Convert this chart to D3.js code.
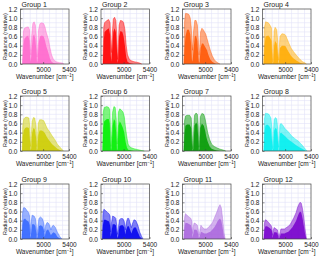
<!DOCTYPE html>
<html>
<head>
<meta charset="utf-8">
<script src="https://cdn.jsdelivr.net/npm/d3@7"></script>
<style>
  body { margin: 0; background: #fff; }
  svg { display: block; font-family: "Liberation Sans", Arial, sans-serif; }
  .tick text { fill: #222; }
</style>
</head>
<body>
<div id="chart"></div>
<script>
const groupNames = ['Group 1', 'Group 2', 'Group 3', 'Group 4', 'Group 5', 'Group 6',
  'Group 7', 'Group 8', 'Group 9', 'Group 10', 'Group 11', 'Group 12'];
const groupColors = ['#ff66cc', '#ff0000', '#ff5500', '#ffaa00', '#cccc00', '#00ee00',
  '#009900', '#00eeee', '#3366ff', '#0000ee', '#aa66dd', '#7700cc'];

// wavenumber breakpoints [cm-1] per group
const wavenumbers = [
  [4680, 4695, 4710, 4740, 4770, 4790, 4800, 4810, 4822, 4840, 4860, 4880, 4895, 4905, 4915, 4930, 4950, 4980, 5010, 5030, 5050, 5080, 5105, 5130, 5160, 5200, 5250, 5300, 5320],
  [4680, 4692, 4705, 4740, 4770, 4790, 4800, 4810, 4822, 4840, 4860, 4880, 4895, 4905, 4915, 4930, 4950, 4980, 5000, 5020, 5040, 5060, 5090, 5120, 5160, 5200, 5250, 5280],
  [4670, 4680, 4695, 4720, 4750, 4770, 4785, 4795, 4805, 4820, 4840, 4860, 4880, 4895, 4905, 4915, 4930, 4950, 4970, 4990, 5010, 5030, 5050, 5080, 5110, 5140, 5170, 5200, 5230],
  [4668, 4680, 4698, 4740, 4765, 4790, 4800, 4808, 4818, 4830, 4845, 4870, 4885, 4895, 4905, 4920, 4950, 4990, 5010, 5030, 5060, 5090, 5130, 5180, 5230, 5270, 5310, 5330],
  [4675, 4685, 4700, 4720, 4750, 4780, 4795, 4805, 4815, 4830, 4850, 4870, 4890, 4902, 4912, 4925, 4945, 4980, 5010, 5030, 5060, 5100, 5140, 5180, 5220, 5260, 5290, 5315],
  [4675, 4685, 4700, 4740, 4770, 4785, 4795, 4805, 4815, 4830, 4850, 4870, 4885, 4897, 4907, 4920, 4940, 4960, 4990, 5010, 5030, 5050, 5070, 5090, 5120, 5160, 5220, 5280, 5320],
  [4670, 4680, 4695, 4720, 4760, 4785, 4797, 4808, 4818, 4835, 4860, 4880, 4893, 4903, 4913, 4925, 4950, 4980, 5000, 5020, 5040, 5070, 5100, 5140, 5180, 5230, 5280, 5320],
  [4670, 4680, 4695, 4720, 4750, 4780, 4795, 4805, 4815, 4830, 4850, 4870, 4885, 4897, 4907, 4920, 4940, 4970, 5000, 5030, 5060, 5100, 5150, 5200, 5250, 5290, 5320, 5340],
  [4670, 4680, 4695, 4720, 4750, 4775, 4790, 4800, 4812, 4830, 4860, 4880, 4893, 4903, 4915, 4935, 4960, 4990, 5010, 5025, 5040, 5060, 5080, 5100, 5120, 5140, 5160, 5190, 5220, 5260, 5290],
  [4670, 4680, 4695, 4720, 4750, 4775, 4790, 4800, 4812, 4830, 4860, 4880, 4893, 4903, 4915, 4935, 4960, 4990, 5010, 5025, 5040, 5060, 5080, 5100, 5120, 5140, 5160, 5190, 5220, 5250, 5280, 5300],
  [4670, 4680, 4695, 4720, 4750, 4780, 4795, 4805, 4815, 4830, 4860, 4880, 4893, 4903, 4915, 4935, 4960, 4990, 5020, 5050, 5080, 5110, 5140, 5170, 5190, 5210, 5230, 5250, 5270, 5290, 5310],
  [4670, 4680, 4695, 4720, 4750, 4780, 4795, 4805, 4815, 4830, 4860, 4880, 4893, 4903, 4915, 4935, 4960, 4990, 5020, 5050, 5080, 5110, 5140, 5170, 5190, 5210, 5230, 5250, 5270, 5290, 5310, 5330]
];
// upper envelope of the spectra in each group
const upperRadiance = [
  [0, 0.7, 0.78, 0.8, 0.81, 0.75, 0.4, 0.2, 0.6, 0.88, 0.92, 0.85, 0.6, 0.15, 0.3, 0.75, 0.88, 0.9, 0.88, 0.8, 0.68, 0.55, 0.36, 0.2, 0.1, 0.05, 0.03, 0.02, 0],
  [0, 0.8, 0.9, 0.95, 0.97, 0.9, 0.5, 0.25, 0.6, 0.98, 1.02, 0.95, 0.6, 0.1, 0.3, 0.85, 0.95, 0.94, 0.9, 0.75, 0.4, 0.2, 0.1, 0.07, 0.05, 0.04, 0.02, 0],
  [0, 0.9, 1.1, 1.1, 1.08, 1.0, 0.8, 0.5, 0.3, 0.7, 0.95, 0.95, 0.85, 0.5, 0.2, 0.3, 0.7, 0.78, 0.75, 0.7, 0.65, 0.55, 0.45, 0.3, 0.18, 0.1, 0.05, 0.02, 0],
  [0, 0.8, 0.92, 0.9, 0.85, 0.78, 0.4, 0.05, 0.3, 0.72, 0.8, 0.75, 0.5, 0.08, 0.25, 0.6, 0.66, 0.65, 0.62, 0.55, 0.45, 0.35, 0.27, 0.18, 0.1, 0.05, 0.02, 0],
  [0, 0.55, 0.7, 0.73, 0.74, 0.72, 0.5, 0.1, 0.3, 0.65, 0.73, 0.72, 0.55, 0.1, 0.25, 0.6, 0.68, 0.68, 0.66, 0.6, 0.5, 0.42, 0.33, 0.25, 0.15, 0.08, 0.04, 0],
  [0, 0.85, 0.95, 0.97, 0.95, 0.9, 0.5, 0.1, 0.35, 0.85, 0.97, 0.95, 0.7, 0.15, 0.3, 0.85, 0.92, 0.9, 0.85, 0.75, 0.5, 0.3, 0.15, 0.1, 0.07, 0.05, 0.03, 0.01, 0],
  [0, 0.65, 0.76, 0.78, 0.78, 0.72, 0.4, 0.05, 0.3, 0.78, 0.83, 0.8, 0.55, 0.08, 0.25, 0.75, 0.82, 0.8, 0.7, 0.55, 0.4, 0.25, 0.15, 0.1, 0.07, 0.04, 0.02, 0],
  [0, 0.7, 0.82, 0.82, 0.8, 0.72, 0.5, 0.05, 0.3, 0.68, 0.73, 0.7, 0.5, 0.08, 0.25, 0.58, 0.6, 0.55, 0.48, 0.45, 0.4, 0.33, 0.27, 0.22, 0.15, 0.08, 0.03, 0],
  [0, 0.55, 0.68, 0.68, 0.62, 0.58, 0.5, 0.1, 0.35, 0.52, 0.5, 0.45, 0.3, 0.08, 0.2, 0.45, 0.48, 0.44, 0.35, 0.15, 0.3, 0.36, 0.35, 0.3, 0.2, 0.28, 0.3, 0.25, 0.15, 0.05, 0],
  [0, 0.55, 0.65, 0.62, 0.58, 0.55, 0.5, 0.15, 0.35, 0.5, 0.48, 0.45, 0.3, 0.1, 0.2, 0.42, 0.45, 0.44, 0.38, 0.2, 0.35, 0.45, 0.45, 0.35, 0.25, 0.35, 0.42, 0.4, 0.3, 0.15, 0.05, 0],
  [0, 0.45, 0.55, 0.52, 0.48, 0.45, 0.38, 0.12, 0.25, 0.35, 0.33, 0.3, 0.2, 0.08, 0.15, 0.3, 0.25, 0.22, 0.22, 0.25, 0.3, 0.35, 0.45, 0.55, 0.62, 0.7, 0.75, 0.68, 0.45, 0.15, 0],
  [0, 0.35, 0.42, 0.4, 0.35, 0.3, 0.25, 0.08, 0.18, 0.25, 0.22, 0.2, 0.12, 0.05, 0.1, 0.22, 0.22, 0.22, 0.25, 0.28, 0.32, 0.4, 0.48, 0.58, 0.68, 0.75, 0.8, 0.78, 0.65, 0.45, 0.2, 0]
];
// lower envelope (where all spectra of a group overlap)
const lowerRadiance = [
  [0, 0.4, 0.55, 0.6, 0.62, 0.5, 0.15, 0.05, 0.3, 0.6, 0.65, 0.55, 0.3, 0.02, 0.08, 0.45, 0.6, 0.62, 0.6, 0.5, 0.38, 0.25, 0.12, 0.05, 0.02, 0.01, 0, 0, 0],
  [0, 0.5, 0.7, 0.75, 0.78, 0.65, 0.2, 0.05, 0.3, 0.7, 0.78, 0.7, 0.35, 0.02, 0.08, 0.6, 0.72, 0.7, 0.6, 0.4, 0.15, 0.05, 0.02, 0.01, 0, 0, 0, 0],
  [0, 0.3, 0.6, 0.75, 0.75, 0.65, 0.4, 0.1, 0.05, 0.3, 0.6, 0.62, 0.5, 0.15, 0.02, 0.05, 0.35, 0.45, 0.45, 0.4, 0.35, 0.3, 0.2, 0.1, 0.05, 0.02, 0, 0, 0],
  [0, 0.4, 0.6, 0.62, 0.58, 0.5, 0.15, 0, 0.05, 0.4, 0.5, 0.45, 0.25, 0, 0.05, 0.35, 0.4, 0.4, 0.38, 0.32, 0.25, 0.18, 0.12, 0.07, 0.03, 0.01, 0, 0],
  [0, 0.3, 0.45, 0.5, 0.52, 0.5, 0.25, 0.02, 0.05, 0.4, 0.5, 0.48, 0.3, 0, 0.05, 0.35, 0.45, 0.45, 0.42, 0.38, 0.3, 0.22, 0.15, 0.1, 0.05, 0.02, 0, 0],
  [0, 0.5, 0.65, 0.7, 0.7, 0.6, 0.2, 0, 0.1, 0.55, 0.7, 0.65, 0.4, 0, 0.05, 0.55, 0.65, 0.6, 0.5, 0.4, 0.2, 0.08, 0.03, 0.02, 0.01, 0, 0, 0, 0],
  [0, 0.35, 0.55, 0.58, 0.58, 0.5, 0.15, 0, 0.05, 0.55, 0.62, 0.58, 0.3, 0, 0.05, 0.5, 0.6, 0.55, 0.45, 0.3, 0.2, 0.1, 0.05, 0.03, 0.01, 0, 0, 0],
  [0, 0.4, 0.55, 0.58, 0.55, 0.48, 0.25, 0, 0.05, 0.45, 0.5, 0.48, 0.3, 0, 0.03, 0.38, 0.4, 0.36, 0.32, 0.28, 0.24, 0.2, 0.15, 0.1, 0.06, 0.03, 0, 0],
  [0, 0.3, 0.42, 0.45, 0.4, 0.38, 0.3, 0.02, 0.1, 0.32, 0.32, 0.28, 0.15, 0, 0.05, 0.28, 0.3, 0.28, 0.2, 0.05, 0.15, 0.2, 0.2, 0.15, 0.08, 0.12, 0.15, 0.12, 0.05, 0.01, 0],
  [0, 0.3, 0.42, 0.42, 0.4, 0.38, 0.3, 0.05, 0.15, 0.32, 0.32, 0.3, 0.15, 0.02, 0.06, 0.28, 0.3, 0.3, 0.25, 0.1, 0.2, 0.28, 0.28, 0.2, 0.12, 0.2, 0.25, 0.25, 0.15, 0.05, 0.01, 0],
  [0, 0.25, 0.35, 0.35, 0.33, 0.3, 0.22, 0.03, 0.1, 0.2, 0.2, 0.18, 0.1, 0.02, 0.05, 0.16, 0.14, 0.12, 0.12, 0.14, 0.16, 0.2, 0.25, 0.32, 0.38, 0.42, 0.45, 0.4, 0.25, 0.05, 0],
  [0, 0.2, 0.28, 0.28, 0.25, 0.22, 0.18, 0.02, 0.08, 0.15, 0.15, 0.13, 0.06, 0.01, 0.04, 0.12, 0.12, 0.12, 0.14, 0.16, 0.2, 0.25, 0.32, 0.4, 0.48, 0.55, 0.6, 0.58, 0.45, 0.28, 0.1, 0]
];
const xTicks = [5000, 5400];
const yTicks = [0, 0.2, 0.4, 0.6, 0.8, 1.0, 1.2];
const xGrid = [4700, 4800, 4900, 5000, 5100, 5200, 5300];
const yGrid = [0.1, 0.2, 0.3, 0.4, 0.5, 0.6, 0.7, 0.8, 0.9, 1.0, 1.1];

const W = 320, H = 260;
const colLeft = [20.5, 101, 182.5, 262.5];
const rowTop = [9, 96, 184];
const pw = 48.5, ph = 55;

const svg = d3.select('#chart').append('svg')
  .attr('width', W).attr('height', H);

groupNames.forEach(function(name, i) {
  const left = colLeft[i % 4];
  const top = rowTop[Math.floor(i / 4)];
  const x = d3.scaleLinear().domain([4650, 5400]).range([0, pw]);
  const y = d3.scaleLinear().domain([0, 1.2]).range([ph, 0]);
  const g = svg.append('g').attr('transform', 'translate(' + left + ',' + top + ')');

  // grid
  g.selectAll('.gx').data(xGrid).enter().append('line')
    .attr('x1', function(d) { return x(d); }).attr('x2', function(d) { return x(d); })
    .attr('y1', 0).attr('y2', ph)
    .attr('stroke', '#e2e2f8').attr('stroke-width', 0.6);
  g.selectAll('.gy').data(yGrid).enter().append('line')
    .attr('y1', function(d) { return y(d); }).attr('y2', function(d) { return y(d); })
    .attr('x1', 0).attr('x2', pw)
    .attr('stroke', '#e2e2f8').attr('stroke-width', 0.6);

  const pts = wavenumbers[i].map(function(w, k) {
    return { wn: w, hi: upperRadiance[i][k], lo: lowerRadiance[i][k] };
  });
  const hiArea = d3.area().x(function(d) { return x(d.wn); })
    .y0(y(0)).y1(function(d) { return y(d.hi); });
  const loArea = d3.area().x(function(d) { return x(d.wn); })
    .y0(y(0)).y1(function(d) { return y(d.lo); });
  const hiLine = d3.line().x(function(d) { return x(d.wn); })
    .y(function(d) { return y(d.hi); });

  g.append('path').attr('d', hiArea(pts))
    .attr('fill', groupColors[i]).attr('fill-opacity', 0.5);
  g.append('path').attr('d', loArea(pts))
    .attr('fill', groupColors[i]).attr('fill-opacity', 0.85);
  g.append('path').attr('d', hiLine(pts))
    .attr('fill', 'none').attr('stroke', groupColors[i]).attr('stroke-width', 0.6).attr('stroke-opacity', 0.7);

  // frame
  g.append('rect').attr('width', pw).attr('height', ph)
    .attr('fill', 'none').attr('stroke', '#444').attr('stroke-width', 0.7);

  const yAxis = d3.axisLeft(y).tickValues(yTicks).tickFormat(d3.format('.1f'))
    .tickSize(-2).tickPadding(3);
  const ya = g.append('g').call(yAxis);
  const xAxis = d3.axisBottom(x).tickValues(xTicks).tickFormat(d3.format('d'))
    .tickSize(-2).tickPadding(3);
  const xa = g.append('g').attr('transform', 'translate(0,' + ph + ')').call(xAxis);
  [ya, xa].forEach(function(a) {
    a.select('.domain').remove();
    a.selectAll('line').attr('stroke', '#444').attr('stroke-width', 0.6);
    a.selectAll('text').attr('font-size', 6.5).attr('font-family', '"Liberation Sans", Arial, sans-serif');
  });

  g.append('text').attr('x', 1).attr('y', -2.5)
    .attr('font-size', 7).attr('fill', '#222').text(name);
  g.append('text')
    .attr('transform', 'translate(-14,' + (ph / 2) + ') rotate(-90)')
    .attr('text-anchor', 'middle').attr('font-size', 5.6).attr('fill', '#222')
    .text('Radiance (relative)');
  const xl = g.append('text').attr('x', pw / 2).attr('y', ph + 15)
    .attr('text-anchor', 'middle').attr('font-size', 6.5).attr('fill', '#222');
  xl.append('tspan').text('Wavenumber [cm');
  xl.append('tspan').attr('font-size', 4.5).attr('dy', -2.5).text('−1');
  xl.append('tspan').attr('dy', 2.5).text(']');
});
</script>
</body>
</html>
